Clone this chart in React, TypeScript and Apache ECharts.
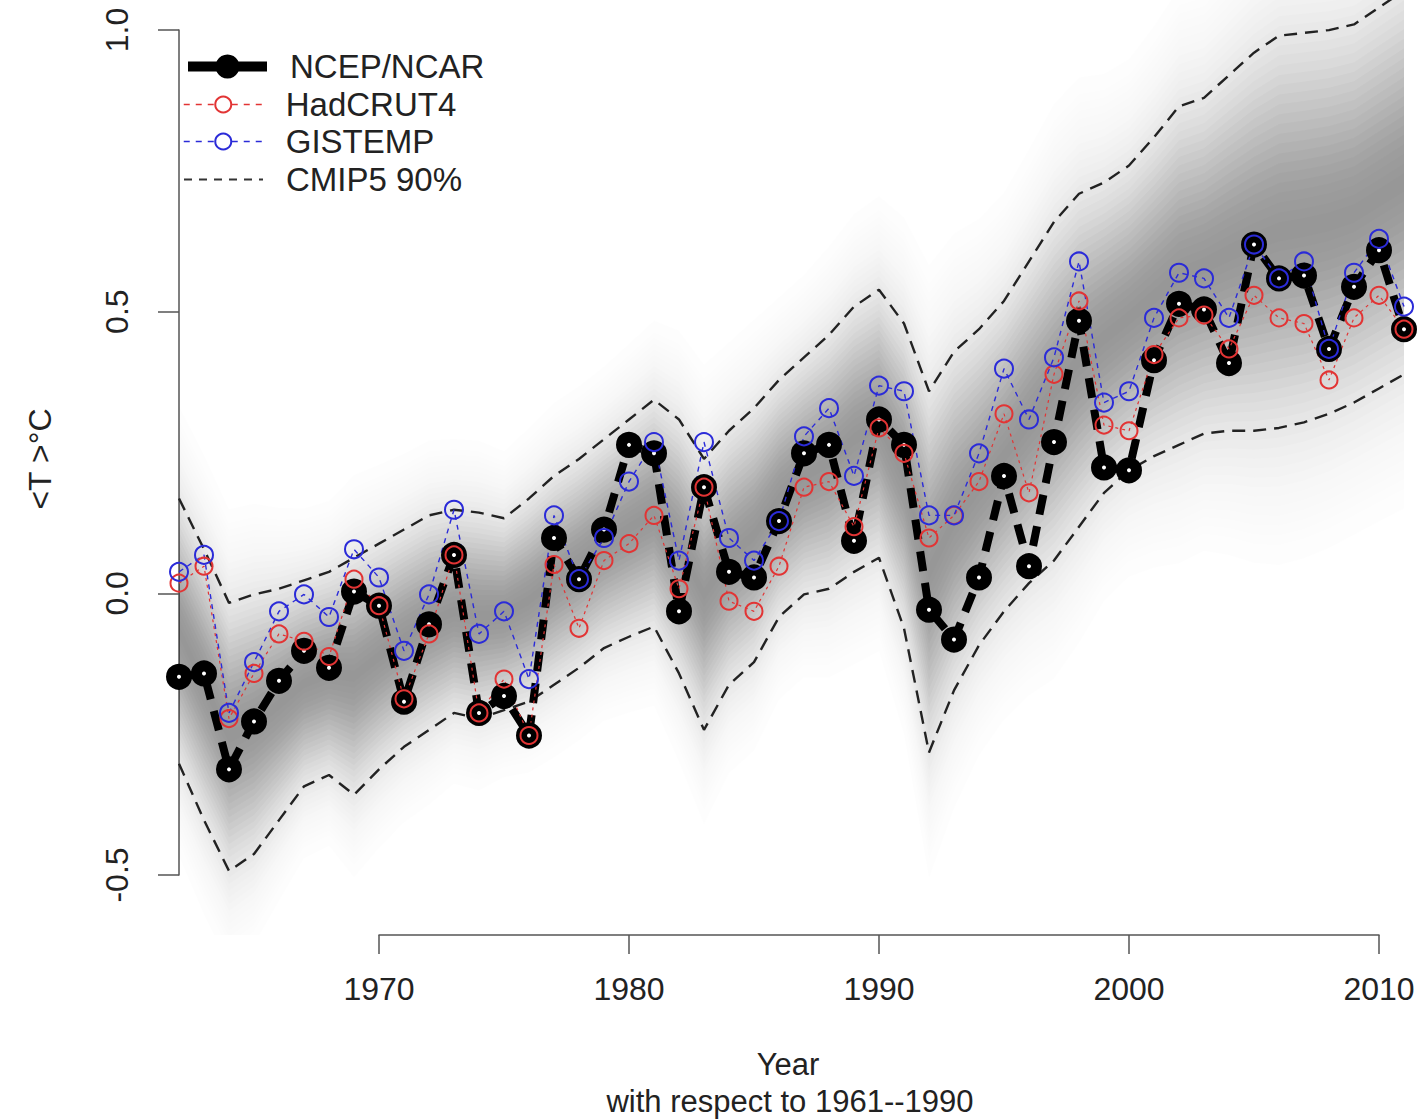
import React, { useEffect, useRef } from "react";
import * as echarts from "echarts";

// ---------- data ----------
const years = [
  1962, 1963, 1964, 1965, 1966, 1967, 1968, 1969, 1970, 1971,
  1972, 1973, 1974, 1975, 1976, 1977, 1978, 1979, 1980, 1981,
  1982, 1983, 1984, 1985, 1986, 1987, 1988, 1989, 1990, 1991,
  1992, 1993, 1994, 1995, 1996, 1997, 1998, 1999, 2000, 2001,
  2002, 2003, 2004, 2005, 2006, 2007, 2008, 2009, 2010, 2011,
];

const ncepNcar = [
  -0.146, -0.14, -0.31, -0.225, -0.153, -0.1, -0.13, 0.005, -0.02, -0.19,
  -0.053, 0.07, -0.21, -0.18, -0.25, 0.1, 0.027, 0.115, 0.265, 0.25,
  -0.03, 0.19, 0.04, 0.03, 0.13, 0.25, 0.265, 0.095, 0.31, 0.265,
  -0.027, -0.08, 0.03, 0.21, 0.05, 0.27, 0.485, 0.225, 0.22, 0.415,
  0.515, 0.505, 0.41, 0.62, 0.56, 0.565, 0.435, 0.545, 0.61, 0.47,
];

const hadcrut4 = [
  0.02, 0.05, -0.22, -0.14, -0.07, -0.083, -0.11, 0.027, -0.02, -0.185,
  -0.07, 0.07, -0.21, -0.15, -0.25, 0.053, -0.06, 0.06, 0.09, 0.14,
  0.01, 0.19, -0.012, -0.03, 0.05, 0.19, 0.2, 0.12, 0.295, 0.25,
  0.1, 0.14, 0.2, 0.32, 0.18, 0.39, 0.52, 0.3, 0.29, 0.425,
  0.49, 0.495, 0.435, 0.53, 0.49, 0.48, 0.38, 0.49, 0.53, 0.47,
];

const gistemp = [
  0.04, 0.07, -0.21, -0.12, -0.03, 0.0, -0.04, 0.08, 0.03, -0.1,
  0.0, 0.15, -0.07, -0.03, -0.15, 0.14, 0.027, 0.1, 0.2, 0.27,
  0.06, 0.27, 0.1, 0.06, 0.13, 0.28, 0.33, 0.21, 0.37, 0.36,
  0.14, 0.14, 0.25, 0.4, 0.31, 0.42, 0.59, 0.34, 0.36, 0.49,
  0.57, 0.56, 0.49, 0.62, 0.56, 0.59, 0.435, 0.57, 0.63, 0.51,
];

const cmipLow = [
  -0.3, -0.4, -0.49, -0.46, -0.4, -0.34, -0.32, -0.355, -0.31, -0.27,
  -0.24, -0.21, -0.22, -0.205, -0.19, -0.16, -0.13, -0.095, -0.075, -0.057,
  -0.14, -0.24, -0.16, -0.12, -0.04, 0.0, 0.01, 0.04, 0.065, -0.06,
  -0.28, -0.17, -0.09, -0.03, 0.02, 0.06, 0.12, 0.18, 0.22, 0.245,
  0.265, 0.285, 0.29, 0.29, 0.295, 0.305, 0.32, 0.34, 0.365, 0.39,
];

const cmipHigh = [
  0.17, 0.08, -0.015, 0.0, 0.01, 0.025, 0.04, 0.065, 0.09, 0.115,
  0.14, 0.15, 0.145, 0.135, 0.17, 0.21, 0.24, 0.275, 0.31, 0.345,
  0.31, 0.24, 0.29, 0.33, 0.38, 0.42, 0.46, 0.51, 0.54, 0.48,
  0.36, 0.43, 0.47, 0.52, 0.59, 0.66, 0.71, 0.73, 0.76, 0.81,
  0.865, 0.88, 0.92, 0.96, 0.99, 0.995, 1.0, 1.01, 1.04, 1.07,
];

const yTickValues = [-0.5, 0.0, 0.5, 1.0];
const xTickYears = [1970, 1980, 1990, 2000, 2010];

const FONT = "'Liberation Sans', Arial, Helvetica, sans-serif";
const RED = "#e23434";
const BLUE = "#2b2bd8";

function pairs(vals: number[]) {
  return years.map((y, i) => [y, vals[i]]);
}

// Grey shading around the CMIP5 range: nested translucent polygons,
// positioned through the axes with api.coord
function shadingSeries() {
  const NB = 34;
  const STEP = 0.05;
  const sigma = 0.6;
  const peak = 0.37;
  const D = (u: number) => peak * Math.exp(-(u * u) / (2 * sigma * sigma));
  const bands: { u: number; alpha: number }[] = [];
  let prevKeep = 1;
  for (let j = 0; j < NB; j++) {
    const u = (NB - j) * STEP;
    const keep = 1 - D(u);
    bands.push({ u, alpha: 1 - keep / prevKeep });
    prevKeep = keep;
  }
  return {
    type: "custom",
    xAxisIndex: 0,
    yAxisIndex: 0,
    silent: true,
    data: years.map((y, i) => [y, cmipLow[i], cmipHigh[i]]),
    encode: { x: 0, y: [1, 2] },
    renderItem: (params: any, api: any) => {
      if (params.dataIndex !== 0) return null;
      const cs = params.coordSys;
      const children: any[] = bands.map((b) => {
        const upper = years.map((y, i) => {
          const mid = (cmipLow[i] + cmipHigh[i]) / 2;
          const half = (cmipHigh[i] - cmipLow[i]) / 2;
          return api.coord([y, mid + b.u * half]);
        });
        const lower = years
          .map((y, i) => {
            const mid = (cmipLow[i] + cmipHigh[i]) / 2;
            const half = (cmipHigh[i] - cmipLow[i]) / 2;
            return api.coord([y, mid - b.u * half]);
          })
          .reverse();
        return {
          type: "polygon",
          shape: { points: upper.concat(lower) },
          style: { fill: `rgba(0,0,0,${b.alpha.toFixed(4)})`, stroke: "none" },
        };
      });
      return {
        type: "group",
        children,
        clipPath: {
          type: "rect",
          shape: { x: cs.x, y: cs.y, width: cs.width, height: cs.height },
        },
      };
    },
  };
}

export default function App() {
  const ref = useRef<HTMLDivElement>(null);

  useEffect(() => {
    if (!ref.current) return;
    const chart = echarts.init(ref.current, undefined, { renderer: "svg" });

    const legendCommon = {
      left: 183,
      orient: "vertical",
      padding: 0,
      itemWidth: 79,
      selectedMode: false,
      textStyle: {
        fontSize: 33,
        color: "#222",
        fontFamily: FONT,
        padding: [0, 0, 0, 18],
      },
    };

    const option: any = {
      animation: false,
      backgroundColor: "#fff",
      grid: [
        { left: 179, top: 0, width: 1230, height: 935 },
        { left: 179, top: 30, width: 1, height: 845 },
        { left: 379, top: 900, width: 1000, height: 35 },
      ],
      xAxis: [
        { gridIndex: 0, type: "value", min: 1962, max: 2011.2, show: false },
        { gridIndex: 1, type: "value", min: 0, max: 1, show: false },
        {
          gridIndex: 2,
          type: "value",
          min: xTickYears[0],
          max: xTickYears[xTickYears.length - 1],
          interval: 10,
          position: "bottom",
          axisLine: { show: true, lineStyle: { color: "#555", width: 1.5 } },
          axisTick: { show: true, length: 19, lineStyle: { color: "#555", width: 1.5 } },
          splitLine: { show: false },
          axisLabel: {
            fontSize: 32,
            color: "#222",
            fontFamily: FONT,
            margin: 38,
            formatter: (v: number) => String(v),
          },
        },
      ],
      yAxis: [
        { gridIndex: 0, type: "value", min: -0.6035, max: 1.0533, show: false },
        {
          gridIndex: 1,
          type: "value",
          min: yTickValues[0],
          max: yTickValues[yTickValues.length - 1],
          interval: 0.5,
          position: "left",
          axisLine: { show: true, lineStyle: { color: "#555", width: 1.5 } },
          axisTick: { show: true, length: 21, lineStyle: { color: "#555", width: 1.5 } },
          splitLine: { show: false },
          axisLabel: {
            rotate: 90,
            fontSize: 32,
            color: "#222",
            fontFamily: FONT,
            margin: 46,
            formatter: (v: number) => v.toFixed(1),
          },
        },
        { gridIndex: 2, type: "value", min: 0, max: 1, show: false },
      ],
      legend: [
        {
          ...legendCommon,
          top: 50,
          itemHeight: 30,
          data: [
            {
              name: "NCEP/NCAR",
              itemStyle: { color: "#000", borderColor: "#000", borderWidth: 0 },
              lineStyle: { type: "solid", width: 10, color: "#000" },
            },
          ],
        },
        {
          ...legendCommon,
          top: 88,
          itemHeight: 20,
          data: [
            {
              name: "HadCRUT4",
              itemStyle: { color: "#fff", borderColor: RED, borderWidth: 2 },
              lineStyle: { type: [6, 6], width: 1.5, color: RED },
            },
          ],
        },
        {
          ...legendCommon,
          top: 125,
          itemHeight: 20,
          data: [
            {
              name: "GISTEMP",
              itemStyle: { color: "#fff", borderColor: BLUE, borderWidth: 2 },
              lineStyle: { type: [6, 6], width: 1.5, color: BLUE },
            },
          ],
        },
        {
          ...legendCommon,
          top: 163,
          itemHeight: 20,
          data: [
            {
              name: "CMIP5 90%",
              itemStyle: { opacity: 0 },
              lineStyle: { type: [8, 7], width: 2, color: "#333" },
            },
          ],
        },
      ],
      graphic: [
        {
          type: "text",
          x: 40,
          y: 459,
          rotation: Math.PI / 2,
          style: {
            text: "<T >°C",
            fontSize: 32,
            fontFamily: FONT,
            fill: "#222",
            align: "center",
            verticalAlign: "middle",
          },
        },
        {
          type: "text",
          x: 788,
          y: 1064,
          style: {
            text: "Year",
            fontSize: 31,
            fontFamily: FONT,
            fill: "#222",
            align: "center",
            verticalAlign: "middle",
          },
        },
        {
          type: "text",
          x: 790,
          y: 1101,
          style: {
            text: "with respect to 1961--1990",
            fontSize: 31,
            fontFamily: FONT,
            fill: "#222",
            align: "center",
            verticalAlign: "middle",
          },
        },
      ],
      series: [
        shadingSeries(),
        {
          name: "CMIP5 90%",
          type: "line",
          data: pairs(cmipHigh),
          xAxisIndex: 0,
          yAxisIndex: 0,
          symbol: "none",
          lineStyle: { color: "#222", width: 2.4, type: [13, 8] },
          itemStyle: { color: "#222" },
        },
        {
          name: "CMIP5 90%",
          type: "line",
          data: pairs(cmipLow),
          xAxisIndex: 0,
          yAxisIndex: 0,
          symbol: "none",
          lineStyle: { color: "#222", width: 2.4, type: [13, 8] },
          itemStyle: { color: "#222" },
        },
        {
          name: "NCEP/NCAR",
          type: "line",
          data: pairs(ncepNcar),
          xAxisIndex: 0,
          yAxisIndex: 0,
          symbol: "circle",
          symbolSize: 15,
          itemStyle: { color: "#fff", borderColor: "#000", borderWidth: 11 },
          lineStyle: { color: "#000", width: 8, type: [20, 12] },
        },
        {
          name: "HadCRUT4",
          type: "line",
          data: pairs(hadcrut4),
          xAxisIndex: 0,
          yAxisIndex: 0,
          symbol: "circle",
          symbolSize: 17,
          itemStyle: { color: "rgba(255,255,255,0)", borderColor: RED, borderWidth: 2 },
          lineStyle: { color: RED, width: 1.2, type: [3, 4] },
        },
        {
          name: "GISTEMP",
          type: "line",
          data: pairs(gistemp),
          xAxisIndex: 0,
          yAxisIndex: 0,
          symbol: "circle",
          symbolSize: 18,
          itemStyle: { color: "rgba(255,255,255,0)", borderColor: BLUE, borderWidth: 2 },
          lineStyle: { color: BLUE, width: 1.4, type: [5, 5] },
        },
      ],
    };

    chart.setOption(option);
    return () => chart.dispose();
  }, []);

  return (
    <div
      ref={ref}
      style={{ position: "absolute", left: 0, top: 0, width: 1419, height: 1120 }}
    />
  );
}
